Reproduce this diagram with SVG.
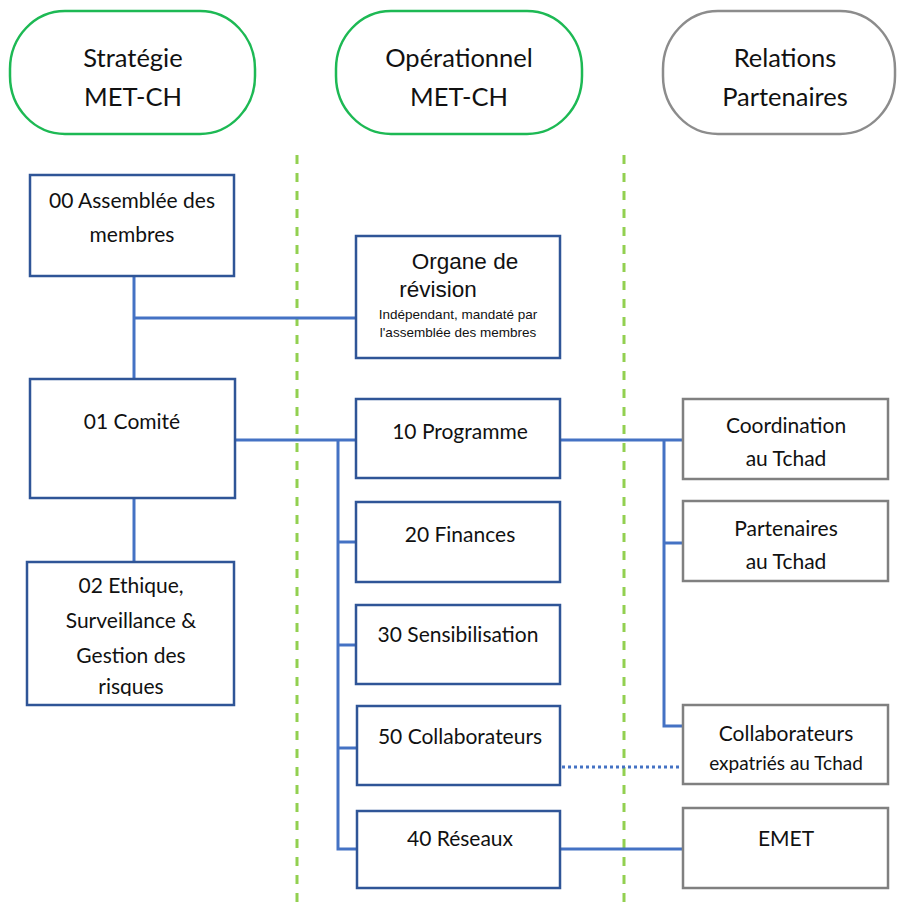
<svg xmlns="http://www.w3.org/2000/svg" width="897" height="902" viewBox="0 0 897 902">
<style>
.pill{fill:#fff;stroke-width:2.5}
.g{stroke:#1DB954}
.gr{stroke:#8C8C8C}
.box{fill:#fff;stroke:#2F5597;stroke-width:2.5}
.pbox{fill:#fff;stroke:#808080;stroke-width:2.5}
.ln{stroke:#4472C4;stroke-width:3;fill:none}
.dash{stroke:#92D050;stroke-width:3;stroke-dasharray:9 9;fill:none}
.t{font-family:Lato,"Open Sans","Liberation Sans",sans-serif;fill:#111;text-anchor:middle}
.h{font-size:25.5px}
.b{font-size:21px}
.a{font-family:"Liberation Sans",Arial,sans-serif;fill:#111;text-anchor:middle}
.n{font-family:"Liberation Sans Narrow","Liberation Sans",sans-serif;font-size:13.5px;fill:#111;text-anchor:middle}
</style>
<defs><clipPath id="c02"><rect x="27" y="562" width="207" height="134"/></clipPath></defs>
<rect width="897" height="902" fill="#fff"/>
<g id="swimlanes">
<line class="dash" x1="297" y1="155" x2="297" y2="902"/>
<line class="dash" x1="624" y1="155" x2="624" y2="902"/>
</g>
<g id="h-strategie"><rect class="pill g" x="10" y="11" width="245" height="123" rx="55" ry="58"/>
<text class="t h" x="133" y="67">Stratégie</text><text class="t h" x="133" y="106">MET-CH</text></g>
<g id="h-operationnel"><rect class="pill g" x="336" y="11" width="246" height="123" rx="55" ry="58"/>
<text class="t h" x="459" y="67">Opérationnel</text><text class="t h" x="459" y="106">MET-CH</text></g>
<g id="h-relations"><rect class="pill gr" x="663" y="11" width="232" height="123" rx="55" ry="58"/>
<text class="t h" x="785" y="67">Relations</text><text class="t h" x="785" y="106">Partenaires</text></g>
<g id="connectors">
<polyline class="ln" points="134,276 134,379"/>
<polyline class="ln" points="134,318 356,318"/>
<polyline class="ln" points="134,498 134,562"/>
<polyline class="ln" points="235,440 356,440"/>
<polyline class="ln" points="338,440 338,849 357,849"/>
<polyline class="ln" points="338,542 356,542"/>
<polyline class="ln" points="338,645 356,645"/>
<polyline class="ln" points="338,748 357,748"/>
<polyline class="ln" points="560,440 683,440"/>
<polyline class="ln" points="664,440 664,726 683,726"/>
<polyline class="ln" points="664,543 683,543"/>
<polyline class="ln" points="560,849 683,849"/>
<line class="ln" x1="562" y1="767" x2="683" y2="767" stroke-dasharray="3 3"/>
</g>
<g id="n00"><rect class="box" x="30" y="175" width="204" height="101"/>
<text class="t b" x="132" y="208">00 Assemblée des</text><text class="t b" x="132" y="242">membres</text></g>
<g id="organe"><rect class="box" x="356" y="236" width="204" height="122"/>
<text class="a" x="465" y="269" font-size="22.5">Organe de</text><text class="a" x="438" y="297" font-size="22.5">révision</text>
<text class="n" x="458" y="319">Indépendant, mandaté par</text><text class="n" x="458" y="337">l'assemblée des membres</text></g>
<g id="n01"><rect class="box" x="30" y="379" width="205" height="119"/>
<text class="t b" x="132" y="429">01 Comité</text></g>
<g id="n02"><rect class="box" x="27" y="562" width="207" height="143"/>
<g clip-path="url(#c02)">
<text class="t b" x="131" y="593">02 Ethique,</text><text class="t b" x="131" y="628">Surveillance &amp;</text>
<text class="t b" x="131" y="663">Gestion des</text><text class="t b" x="131" y="694">risques</text></g></g>
<g id="n10"><rect class="box" x="356" y="399" width="204" height="79"/>
<text class="t b" x="460" y="439">10 Programme</text></g>
<g id="n20"><rect class="box" x="356" y="502" width="204" height="80"/>
<text class="t b" x="460" y="542">20 Finances</text></g>
<g id="n30"><rect class="box" x="356" y="605" width="204" height="79"/>
<text class="t b" x="458" y="642">30 Sensibilisation</text></g>
<g id="n50"><rect class="box" x="357" y="706" width="203" height="79"/>
<text class="t b" x="460" y="744">50 Collaborateurs</text></g>
<g id="n40"><rect class="box" x="357" y="811" width="203" height="77"/>
<text class="t b" x="460" y="846">40 Réseaux</text></g>
<g id="coord"><rect class="pbox" x="683" y="399" width="205" height="80"/>
<text class="t b" x="786" y="433">Coordination</text><text class="t b" x="786" y="466">au Tchad</text></g>
<g id="part"><rect class="pbox" x="683" y="501" width="205" height="80"/>
<text class="t b" x="786" y="536">Partenaires</text><text class="t b" x="786" y="569">au Tchad</text></g>
<g id="expat"><rect class="pbox" x="683" y="705" width="205" height="79"/>
<text class="t b" x="786" y="741">Collaborateurs</text><text class="t" x="786" y="770" font-size="19">expatriés au Tchad</text></g>
<g id="emet"><rect class="pbox" x="683" y="808" width="205" height="80"/>
<text class="t b" x="786" y="846">EMET</text></g>
</svg>
